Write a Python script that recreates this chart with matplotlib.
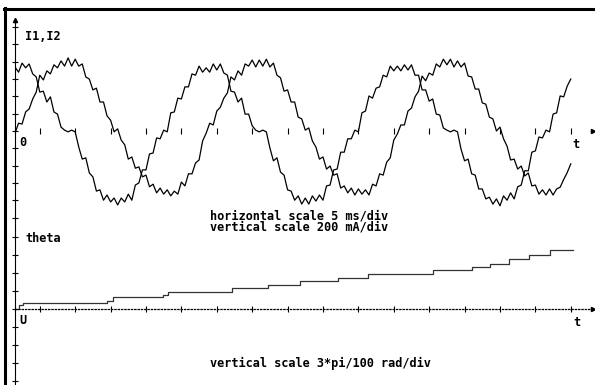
import matplotlib
matplotlib.use("Agg")
import matplotlib.pyplot as plt
from matplotlib.lines import Line2D
import numpy as np

# currents sampled every 0.5 ms (mA)
t_ms = np.arange(158) * 0.5

i1_ma = [740, 680, 785, 730, 775, 660, 625, 450, 460, 335,
         395, 220, 195, 45, 10, -10, 10, -10, -185, -325,
         -310, -485, -530, -695, -680, -800, -740, -820, -775, -855,
         -775, -820, -730, -800, -625, -600, -450, -450, -265, -255,
         -80, -90, 10, -10, 210, 220, 380, 370, 510, 510,
         660, 645, 750, 680,
         730, 680, 775, 705, 775, 670, 645, 460, 450, 335,
         380, 195, 195, 60, 10, -10, 10, -10, -195, -345,
         -310, -475, -510, -680, -695, -800, -750, -845, -775, -845,
         -750, -810, -740, -800, -635, -625, -450, -440, -245, -245,
         -90, -90, 10, -10, 210, 230, 405, 380, 495, 510,
         645, 625, 750, 695,
         750, 695, 765, 705, 765, 645, 645, 475, 475, 345,
         370, 195, 185, 35, 10, -10, 10, -10, -210, -345,
         -325, -495, -510, -670, -670, -785, -765, -845, -785, -865,
         -750, -800, -715, -785, -645, -625, -460, -460, -245, -230,
         -70, -80, 10, -10, 195, 210, 405, 395, 520, 600]

i2_ma = [-25, 90, 80, 220, 255, 370, 450, 645, 590, 695,
         660, 765, 730, 810, 750, 845, 750, 830, 750, 775,
         625, 600, 475, 495, 335, 335, 175, 125, -10, 25,
         -105, -160, -325, -300, -430, -415, -530, -510, -645, -615,
         -715, -660, -730, -680, -750, -695, -730, -590, -635, -495,
         -495, -370, -335, -115,
         -25, 90, 70, 230, 275, 380, 440, 625, 590, 695,
         645, 775, 750, 820, 740, 820, 750, 830, 740, 785,
         645, 615, 460, 475, 335, 335, 160, 140, 10, 35,
         -115, -185, -325, -300, -440, -405, -510, -495, -660, -635,
         -715, -660, -740, -670, -730, -680, -740, -615, -635, -495,
         -510, -360, -310, -105,
         -35, 70, 70, 230, 265, 395, 460, 635, 580, 670,
         645, 775, 740, 830, 765, 830, 740, 810, 740, 785,
         635, 625, 485, 485, 325, 310, 160, 140, 0, 45,
         -90, -175, -335, -325, -440, -405, -520, -485, -635, -625,
         -730, -680, -740, -670, -740, -670, -650, -560, -480, -380]

# theta staircase (ms, rad)
theta_t = [0.0, 0.56, 1.13, 13.0, 13.84, 20.9, 21.6, 30.6, 35.7, 40.3,
           45.6, 49.9, 59.0, 64.5, 67.1, 69.8, 72.6, 75.6, 78.8]
theta_rad = [0.0, 0.021, 0.033, 0.042, 0.064, 0.073, 0.091, 0.110, 0.126, 0.144,
             0.162, 0.181, 0.204, 0.220, 0.236, 0.262, 0.283, 0.309, 0.309]

tick_t = [3.5 + 5 * k for k in range(16)]
i_ticks = [200 * k for k in range(-5, 7)]
th_ticks = [3 * np.pi / 100 * k for k in range(-4, 5)]

W, H = 595, 385
fig = plt.figure(figsize=(W / 100, H / 100), dpi=100)
x_end = 578 / 7.08

ax1 = fig.add_axes([15 / W, 1 - 231 / H, 578 / W, 211 / H])
ax2 = fig.add_axes([15 / W, 0, 578 / W, 154 / H])

for ax in (ax1, ax2):
    ax.set_facecolor("none")
    ax.spines["top"].set_visible(False)
    ax.spines["right"].set_visible(False)
    ax.spines["left"].set_linewidth(0.8)
    ax.spines["bottom"].set_position(("data", 0))
    ax.set_xlim(0, x_end)
    ax.set_xticks(tick_t)
    ax.tick_params(labelbottom=False, labelleft=False, direction="inout", width=0.8)
    ax.tick_params(axis="x", length=5)
    ax.tick_params(axis="y", length=4)

ax1.spines["bottom"].set_color("none")
ax2.spines["bottom"].set_linestyle(":")
ax2.spines["bottom"].set_linewidth(0.9)

ax1.set_ylim(-1156, 1283)
ax1.set_yticks(i_ticks)
ax2.set_ylim(-0.398, 0.408)
ax2.set_yticks(th_ticks)

ax1.plot(t_ms, i1_ma, color="black", lw=0.9)
ax1.plot(t_ms, i2_ma, color="black", lw=0.9)
ax2.step(theta_t, theta_rad, where="post", color="#333333", lw=0.9)

# axis end marks
ax1.plot([x_end], [0], marker=">", ms=3, color="black", clip_on=False)
ax2.plot([x_end], [0], marker=">", ms=3, color="black", clip_on=False)
ax1.plot([0], [1283], marker="^", ms=3, color="black", clip_on=False)

# frame
fig.add_artist(Line2D([4 / W, 1], [1 - 9 / H, 1 - 9 / H], lw=2.2, color="black"))
fig.add_artist(Line2D([5 / W, 5 / W], [0, 1 - 8 / H], lw=2.2, color="black"))

font = dict(family="DejaVu Sans Mono", size=8.6, weight="bold", va="center", ha="left")
fig.text(25 / W, 1 - 36 / H, "I1,I2", **font)
fig.text(19 / W, 1 - 143 / H, "0", **font)
fig.text(572 / W, 1 - 144 / H, "t", **font)
fig.text(210 / W, 1 - 221.5 / H, "horizontal scale 5 ms/div\nvertical scale 200 mA/div",
         linespacing=0.8, **font)
fig.text(25 / W, 1 - 239 / H, "theta", **font)
fig.text(19 / W, 1 - 320 / H, "U", **font)
fig.text(573 / W, 1 - 322 / H, "t", **font)
fig.text(210 / W, 1 - 363 / H, "vertical scale 3*pi/100 rad/div", **font)

fig.savefig("out.png", dpi=100)
